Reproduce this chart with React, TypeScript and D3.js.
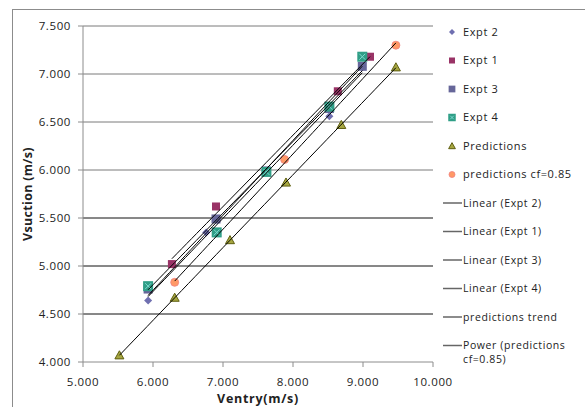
import React from "react";
import * as d3 from "d3";

// series values: [Ventry, Vsuction]
const expt2 = [[5.93, 4.64], [6.76, 5.35], [6.92, 5.48], [8.52, 6.56], [8.99, 7.07]];
const expt1 = [[6.27, 5.02], [6.9, 5.62], [8.64, 6.82], [9.1, 7.18]];
const expt3 = [[5.93, 4.76], [6.9, 5.49], [7.62, 5.99], [8.52, 6.64], [8.99, 7.08]];
const expt4 = [[5.93, 4.79], [6.91, 5.35], [7.62, 5.98], [8.52, 6.66], [8.99, 7.18]];
const predictions = [[5.52, 4.07], [6.31, 4.67], [7.1, 5.27], [7.9, 5.87], [8.69, 6.47], [9.47, 7.07]];
const predCf = [[6.31, 4.83], [7.88, 6.11], [9.47, 7.3]];

const xTicks = [5, 6, 7, 8, 9, 10];
const yTicks = [4, 4.5, 5, 5.5, 6, 6.5, 7, 7.5];

const markerLegend = ["Expt 2", "Expt 1", "Expt 3", "Expt 4", "Predictions", "predictions cf=0.85"];
const lineLegend = ["Linear (Expt 2)", "Linear (Expt 1)", "Linear (Expt 3)", "Linear (Expt 4)", "predictions trend", "Power (predictions|cf=0.85)"];

const FONT = "'Open Sans', sans-serif";

const x = d3.scaleLinear().domain([5, 10]).range([83, 433]);
const y = d3.scaleLinear().domain([4, 7.5]).range([362, 26]);

function linFit(pts: number[][]) {
  const mx = d3.mean(pts, (p) => p[0])!;
  const my = d3.mean(pts, (p) => p[1])!;
  const b = d3.sum(pts, (p) => (p[0] - mx) * (p[1] - my)) / d3.sum(pts, (p) => (p[0] - mx) ** 2);
  return (v: number) => my + b * (v - mx);
}

function powFit(pts: number[][]) {
  const logs = pts.map((p) => [Math.log(p[0]), Math.log(p[1])]);
  const f = linFit(logs);
  return (v: number) => Math.exp(f(Math.log(v)));
}

function Marker({ kind, cx, cy, s = 1 }: { kind: number; cx: number; cy: number; s?: number }) {
  if (kind === 0) {
    const r = 4 * s;
    return <path d={`M${cx},${cy - r}L${cx + r},${cy}L${cx},${cy + r}L${cx - r},${cy}Z`} fill="#6f6fb0" />;
  }
  if (kind === 1) {
    const h = 4 * s;
    return <rect x={cx - h} y={cy - h} width={2 * h} height={2 * h} fill="#993366" />;
  }
  if (kind === 2) {
    const h = 4.5 * s;
    return <rect x={cx - h} y={cy - h} width={2 * h} height={2 * h} fill="#666699" />;
  }
  if (kind === 3) {
    const h = 5 * s;
    return (
      <g>
        <rect x={cx - h} y={cy - h} width={2 * h} height={2 * h} fill="#2f9e86" />
        <path d={`M${cx - h + 2},${cy - h + 2}L${cx + h - 2},${cy + h - 2}M${cx + h - 2},${cy - h + 2}L${cx - h + 2},${cy + h - 2}`} stroke="#7fd8d0" strokeWidth={1} />
      </g>
    );
  }
  if (kind === 4) {
    const r = 4.5 * s;
    return (
      <path d={`M${cx},${cy - r}L${cx + r},${cy + r * 0.8}L${cx - r},${cy + r * 0.8}Z`} fill="#a6a640" stroke="#5f5f10" strokeWidth={1} />
    );
  }
  return <circle cx={cx} cy={cy} r={4 * s} fill="#ff9966" stroke="#f08080" strokeWidth={0.8} />;
}

export default function App() {
  const series = [expt2, expt1, expt3, expt4, predictions, predCf];

  // trendlines: linear fits, power fit for the cf=0.85 series
  const trends = series.map((pts, i) => {
    const f = i === 5 ? powFit(pts) : linFit(pts);
    const [x0, x1] = d3.extent(pts, (p) => p[0]) as [number, number];
    const xs = d3.range(0, 41).map((k) => x0 + ((x1 - x0) * k) / 40);
    return d3
      .line<number>()
      .x((v) => x(v))
      .y((v) => y(f(v)))(xs) as string;
  });

  const rowY = (i: number) => 32 + i * 28.5;

  return (
    <svg width={585} height={407} style={{ position: "absolute", left: 0, top: 0, background: "#fff" }} fontFamily={FONT}>
      <rect x={12.5} y={9.5} width={700} height={500} fill="none" stroke="#8c8c8c" />

      {/* gridlines */}
      {yTicks.slice(1).map((t) => (
        <line key={t} x1={83} x2={433} y1={y(t)} y2={y(t)} stroke={t >= 6 ? "#7a7a7a" : "#111"} strokeWidth={1} />
      ))}

      {/* axes */}
      <line x1={83} x2={83} y1={26} y2={362} stroke="#8c8c8c" />
      <line x1={83} x2={433} y1={362} y2={362} stroke="#8c8c8c" />
      {yTicks.map((t) => (
        <g key={t}>
          <line x1={78} x2={83} y1={y(t)} y2={y(t)} stroke="#8c8c8c" />
          <text x={71} y={y(t)} dy="0.35em" textAnchor="end" fontSize={11.5} fill="#222" letterSpacing={0.6}>
            {d3.format(".3f")(t)}
          </text>
        </g>
      ))}
      {xTicks.map((t) => (
        <g key={t}>
          <line x1={x(t)} x2={x(t)} y1={362} y2={367} stroke="#8c8c8c" />
          <text x={x(t)} y={382} dy="0.35em" textAnchor="middle" fontSize={11.5} fill="#222" letterSpacing={0.6}>
            {d3.format(".3f")(t)}
          </text>
        </g>
      ))}
      <text x={258} y={399} dy="0.35em" textAnchor="middle" fontSize={12.5} fontWeight="bold" fill="#222" letterSpacing={0.7}>
        Ventry(m/s)
      </text>
      <text transform={`translate(28,194) rotate(-90)`} dy="0.35em" textAnchor="middle" fontSize={12.5} fontWeight="bold" fill="#222" letterSpacing={0.3}>
        Vsuction (m/s)
      </text>

      {/* markers */}
      {series.map((pts, i) => (
        <g key={i}>
          {pts.map((p, j) => (
            <Marker key={j} kind={i} cx={x(p[0])} cy={y(p[1])} />
          ))}
        </g>
      ))}

      {/* trendlines */}
      {trends.map((d, i) => (
        <path key={i} d={d} fill="none" stroke="#000" strokeWidth={1} />
      ))}

      {/* legend */}
      {markerLegend.map((name, i) => (
        <g key={name}>
          <Marker kind={i} cx={452} cy={rowY(i)} s={0.75} />
          <text x={463} y={rowY(i)} dy="0.35em" fontSize={11} fill="#222" letterSpacing={0.6}>
            {name}
          </text>
        </g>
      ))}
      {lineLegend.map((name, k) => {
        const i = k + 6;
        const parts = name.split("|");
        return (
          <g key={name}>
            <line x1={443} x2={462} y1={rowY(i)} y2={rowY(i)} stroke="#666" strokeWidth={1.5} />
            {parts.map((p, j) => (
              <text key={j} x={463} y={rowY(i) - j * 0.5 + j * 14} dy="0.35em" fontSize={10.5} fill="#222" letterSpacing={0.6}>
                {p}
              </text>
            ))}
          </g>
        );
      })}
    </svg>
  );
}
